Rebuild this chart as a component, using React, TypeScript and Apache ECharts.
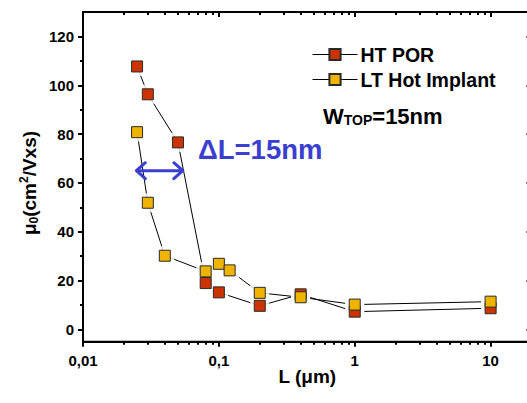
import React, { useEffect, useRef } from 'react';
import * as echarts from 'echarts';

// ---- data ----
const L_HT = [0.025, 0.03, 0.05, 0.08, 0.1, 0.2, 0.4, 1, 10];
const MU_HT = [107.7, 96.3, 76.6, 19.0, 15.2, 9.7, 14.4, 7.3, 8.7];
const L_LT = [0.025, 0.03, 0.04, 0.08, 0.1, 0.12, 0.2, 0.4, 1, 10];
const MU_LT = [80.8, 51.9, 30.2, 23.8, 26.9, 24.2, 15.0, 13.2, 10.2, 11.4];

const SERIES_NAMES = ['HT POR', 'LT Hot Implant'];

const Y_MAJOR = [0, 20, 40, 60, 80, 100, 120];
const Y_MINOR = [10, 30, 50, 70, 90, 110];
const X_MAJOR = [0.01, 0.1, 1, 10];
const X_MAJOR_LABELS = ['0,01', '0,1', '1', '10'];
const X_MINOR = [
  0.02, 0.03, 0.04, 0.05, 0.06, 0.07, 0.08, 0.09,
  0.2, 0.3, 0.4, 0.5, 0.6, 0.7, 0.8, 0.9,
  2, 3, 4, 5, 6, 7, 8, 9,
];
const X_RANGE = [0.01, 20];
const Y_RANGE = [-5, 130];

// annotation (data coordinates)
const ARROW_FROM = [0.0247, 65];
const ARROW_TO = [0.0543, 65];
const DELTA_LABEL = 'ΔL=15nm';

const FONT = "'Liberation Sans', Arial, sans-serif";
const RED = '#cc3300';
const YELLOW = '#f0b400';
const BLUE = '#3b3fd0';
const BORDER = '#2a2a2a';

const pairs = (xs: number[], ys: number[]) => xs.map((x, i) => [x, ys[i]]);

export default function App() {
  const ref = useRef<HTMLDivElement>(null);

  useEffect(() => {
    if (!ref.current) return;
    const chart = echarts.init(ref.current, null, { renderer: 'svg' });

    const htData = pairs(L_HT, MU_HT);
    const ltData = pairs(L_LT, MU_LT);

    const xFmt = (v: number) => {
      const idx = X_MAJOR.findIndex((m) => Math.abs(m - v) / m < 1e-6);
      return idx >= 0 ? X_MAJOR_LABELS[idx] : '';
    };

    const gridRect = (frame: boolean) => ({
      left: 83,
      top: 12,
      width: 448.5,
      height: 329.7,
      containLabel: false,
      outerBoundsMode: 'none',
      show: frame,
      borderColor: '#000',
      borderWidth: frame ? 2 : 0,
      backgroundColor: 'transparent',
    });

    const baseX = (gridIndex: number, position: string) => ({
      type: 'log',
      logBase: 10,
      min: X_RANGE[0],
      max: X_RANGE[1],
      gridIndex,
      position,
      splitLine: { show: false },
      minorTick: { show: false },
      minorSplitLine: { show: false },
    });
    const baseY = (gridIndex: number, position: string) => ({
      type: 'value',
      min: Y_RANGE[0],
      max: Y_RANGE[1],
      gridIndex,
      position,
      splitLine: { show: false },
      minorTick: { show: false },
    });
    const tickStyle = () => ({ color: '#000', width: 2 });
    const labelStyle = () => ({ fontSize: 15, fontWeight: 'bold', color: '#000', fontFamily: FONT });
    const lineOn = () => ({ show: true, onZero: false, lineStyle: { color: '#000', width: 2 } });
    const lineOff = () => ({ show: false, onZero: false });
    const ticks = (values: number[], length: number, inside: boolean) => ({
      show: true,
      customValues: values,
      length,
      inside,
      lineStyle: tickStyle(),
    });

    const markerSeries = (name: string, data: number[][], color: string, z: number) => ({
      name,
      type: 'line',
      data,
      xAxisIndex: 0,
      yAxisIndex: 0,
      symbol: 'rect',
      symbolSize: 11,
      showSymbol: true,
      lineStyle: { width: 0, opacity: 0 },
      itemStyle: { color, borderColor: BORDER, borderWidth: 1 },
      z,
      silent: true,
      emphasis: { disabled: true },
    });

    const plain = (data: number[][], extra: object) => ({
      data,
      xAxisIndex: 0,
      yAxisIndex: 0,
      silent: true,
      ...extra,
    });

    chart.setOption({
      animation: false,
      textStyle: { fontFamily: FONT },
      grid: [gridRect(true), gridRect(false), gridRect(false)],
      xAxis: [
        {
          ...baseX(0, 'bottom'),
          axisLine: lineOn(),
          axisTick: ticks(X_MAJOR, 5, false),
          axisLabel: { ...labelStyle(), customValues: X_MAJOR, formatter: xFmt, margin: 11 },
          name: 'L (μm)',
          nameLocation: 'middle',
          nameGap: 25,
          nameMoveOverlap: false,
          nameTextStyle: { fontSize: 19, fontWeight: 'bold', color: '#000', fontFamily: FONT },
        },
        {
          ...baseX(1, 'bottom'),
          axisLine: lineOff(),
          axisTick: ticks(X_MINOR, 3, false),
          axisLabel: { show: false },
        },
        {
          ...baseX(1, 'top'),
          axisLine: lineOff(),
          axisTick: ticks(X_MINOR, 3, true),
          axisLabel: { show: false },
        },
        {
          ...baseX(2, 'top'),
          axisLine: lineOff(),
          axisTick: ticks(X_MAJOR, 5, true),
          axisLabel: { show: false },
        },
      ],
      yAxis: [
        {
          ...baseY(0, 'left'),
          axisLine: lineOn(),
          axisTick: ticks(Y_MAJOR, 5, false),
          axisLabel: { ...labelStyle(), customValues: Y_MAJOR, margin: 9 },
        },
        {
          ...baseY(1, 'left'),
          axisLine: lineOff(),
          axisTick: ticks(Y_MINOR, 3, false),
          axisLabel: { show: false },
        },
        {
          ...baseY(1, 'right'),
          axisLine: lineOff(),
          axisTick: ticks(Y_MAJOR, 5, true),
          axisLabel: { show: false },
        },
        {
          ...baseY(2, 'left'),
          show: false,
        },
      ],
      legend: {
        data: SERIES_NAMES,
        orient: 'vertical',
        align: 'left',
        left: 307,
        top: 39.5,
        itemWidth: 45,
        itemHeight: 14,
        itemGap: 5,
        selectedMode: false,
        lineStyle: { color: '#000', width: 1, opacity: 1 },
        textStyle: { fontSize: 19.5, fontWeight: 'bold', color: '#000', fontFamily: FONT, padding: [0, 0, 0, -2] },
      },
      series: [
        plain(htData, { type: 'line', showSymbol: false, symbol: 'none', lineStyle: { color: '#000', width: 1 }, z: 1 }),
        plain(ltData, { type: 'line', showSymbol: false, symbol: 'none', lineStyle: { color: '#000', width: 1 }, z: 1 }),
        plain(htData, { type: 'scatter', symbol: 'rect', symbolSize: 19, itemStyle: { color: '#fff' }, z: 2 }),
        plain(ltData, { type: 'scatter', symbol: 'rect', symbolSize: 19, itemStyle: { color: '#fff' }, z: 2 }),
        markerSeries(SERIES_NAMES[0], htData, RED, 3),
        markerSeries(SERIES_NAMES[1], ltData, YELLOW, 4),
      ],
    });

    const toPx = (pt: number[]) => chart.convertToPixel({ seriesIndex: 0 }, pt) as number[];
    const p1 = toPx(ARROW_FROM);
    const p2 = toPx(ARROW_TO);
    const topLeft = toPx([X_RANGE[0], Y_RANGE[1]]);
    const topRight = toPx([X_RANGE[1], Y_RANGE[1]]);
    const ay = p1[1];
    const head = 9;
    const arrowStyle = () => ({ stroke: BLUE, lineWidth: 3, fill: null, lineCap: 'round', lineJoin: 'round' });

    chart.setOption({
      graphic: [
        {
          type: 'line',
          shape: { x1: topLeft[0] - 1, y1: topLeft[1], x2: topRight[0], y2: topRight[1] },
          style: { stroke: '#000', lineWidth: 2 },
          z: 20,
        },
        {
          type: 'line',
          shape: { x1: p1[0] + 1, y1: ay, x2: p2[0] - 1, y2: ay },
          style: arrowStyle(),
          z: 10,
        },
        {
          type: 'polyline',
          shape: { points: [[p1[0] + head, ay - 8], [p1[0], ay], [p1[0] + head, ay + 8]] },
          style: arrowStyle(),
          z: 10,
        },
        {
          type: 'polyline',
          shape: { points: [[p2[0] - head, ay - 8], [p2[0], ay], [p2[0] - head, ay + 8]] },
          style: arrowStyle(),
          z: 10,
        },
        {
          type: 'text',
          x: 198,
          y: 149,
          z: 10,
          style: {
            text: DELTA_LABEL,
            fill: BLUE,
            fontSize: 27.5,
            fontWeight: 'bold',
            fontFamily: FONT,
            align: 'left',
            verticalAlign: 'middle',
          },
        },
        {
          type: 'text',
          x: 323,
          y: 116,
          z: 10,
          style: {
            text: '{a|W}{s|TOP}{a|=15nm}',
            align: 'left',
            verticalAlign: 'middle',
            rich: {
              a: { fontSize: 22, fontWeight: 'bold', fontFamily: FONT, fill: '#000', lineHeight: 22 },
              s: { fontSize: 14, fontWeight: 'bold', fontFamily: FONT, fill: '#000', lineHeight: 11, verticalAlign: 'bottom' },
            },
          },
        },
        {
          type: 'text',
          x: 29,
          y: 183,
          rotation: Math.PI / 2,
          z: 10,
          style: {
            text: '{a|μ}{s|0}{a|(cm}{p|2}{a|/Vxs)}',
            align: 'center',
            verticalAlign: 'middle',
            rich: {
              a: { fontSize: 19, fontWeight: 'bold', fontFamily: FONT, fill: '#000', lineHeight: 22 },
              s: { fontSize: 12, fontWeight: 'bold', fontFamily: FONT, fill: '#000', lineHeight: 10, verticalAlign: 'bottom' },
              p: { fontSize: 12, fontWeight: 'bold', fontFamily: FONT, fill: '#000', lineHeight: 12, verticalAlign: 'top' },
            },
          },
        },
      ],
    });

    return () => chart.dispose();
  }, []);

  return (
    <div
      ref={ref}
      style={{ position: 'absolute', left: 0, top: 0, width: 527, height: 403, background: '#fff' }}
    />
  );
}
